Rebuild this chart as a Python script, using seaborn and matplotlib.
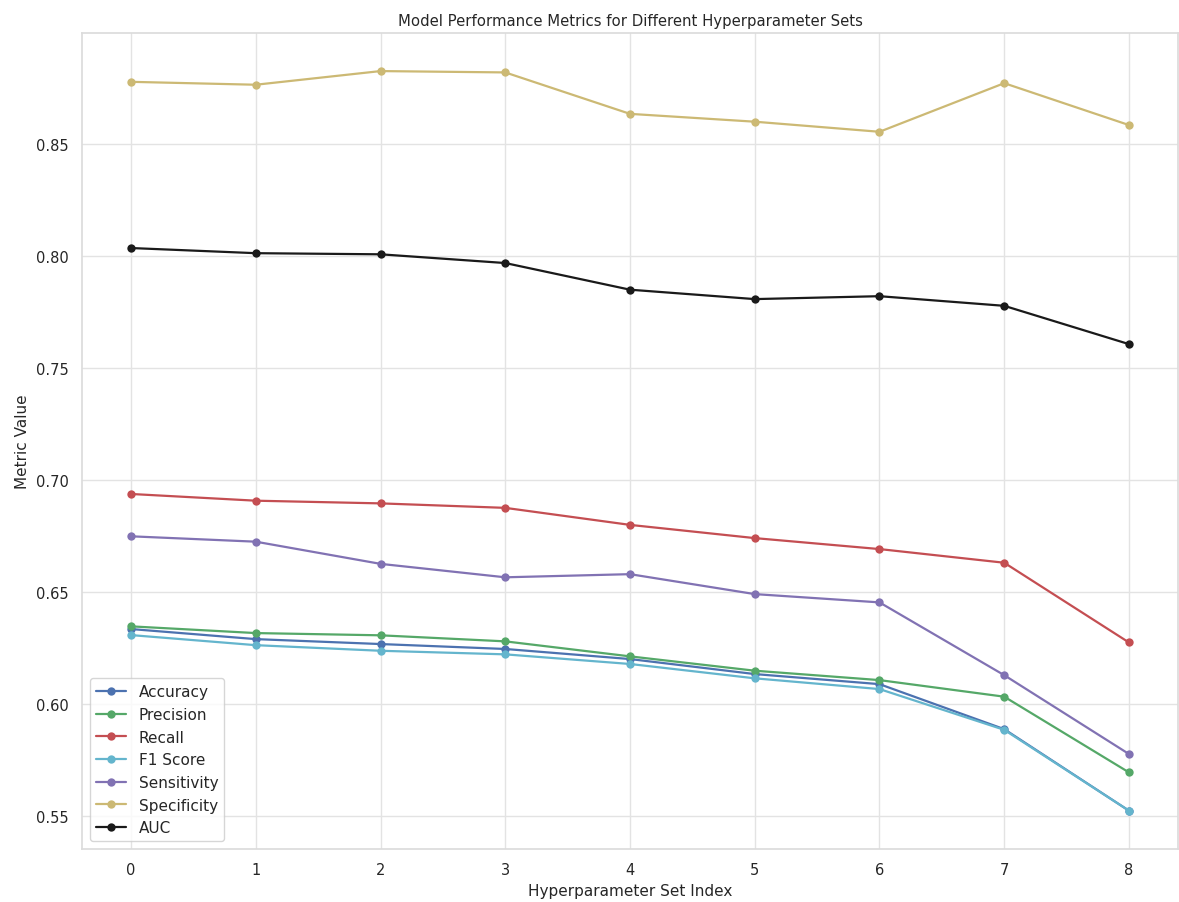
import numpy as np
import pandas as pd
import matplotlib
matplotlib.use("Agg")
import matplotlib.pyplot as plt
import seaborn as sns

hp_index = [0, 1, 2, 3, 4, 5, 6, 7, 8]
accuracy = [0.6335, 0.6290, 0.6268, 0.6246, 0.6201, 0.6134, 0.6089, 0.5888, 0.5524]
precision = [0.6347, 0.6317, 0.6307, 0.6280, 0.6213, 0.6149, 0.6107, 0.6033, 0.5695]
recall = [0.6938, 0.6908, 0.6896, 0.6876, 0.6800, 0.6741, 0.6692, 0.6631, 0.6275]
f1_score = [0.6308, 0.6263, 0.6238, 0.6222, 0.6179, 0.6115, 0.6067, 0.5885, 0.5524]
sensitivity = [0.6749, 0.6725, 0.6626, 0.6566, 0.6580, 0.6491, 0.6454, 0.6129, 0.5777]
specificity = [0.8778, 0.8765, 0.8826, 0.8820, 0.8635, 0.8600, 0.8555, 0.8772, 0.8585]
auc = [0.8036, 0.8013, 0.8008, 0.7969, 0.7850, 0.7808, 0.7821, 0.7778, 0.7607]

metric_names = ["Accuracy", "Precision", "Recall", "F1 Score", "Sensitivity", "Specificity", "AUC"]
metric_values = [accuracy, precision, recall, f1_score, sensitivity, specificity, auc]
color_codes = ["b", "g", "r", "c", "m", "y", "k"]

sns.set_theme(style="whitegrid", color_codes=True,
              rc={"grid.color": "#e3e3e3", "axes.edgecolor": "#dcdcdc"})

rows = []
for name, vals in zip(metric_names, metric_values):
    for i, v in zip(hp_index, vals):
        rows.append({"Hyperparameter Set Index": i, "Metric Value": v, "Metric": name})
df = pd.DataFrame(rows)

palette = {name: matplotlib.colors.to_rgb(c) for name, c in zip(metric_names, color_codes)}

fig = plt.figure(figsize=(11.79, 9.03), dpi=100)
ax = fig.add_axes([82 / 1179, 1 - 850 / 903, (1178 - 82) / 1179, (850 - 34) / 903])

sns.lineplot(data=df, x="Hyperparameter Set Index", y="Metric Value", hue="Metric",
             hue_order=metric_names, palette=palette, marker="o", markersize=6,
             markeredgewidth=0, linewidth=1.6, ax=ax)

ax.set_title("Model Performance Metrics for Different Hyperparameter Sets", fontsize=10.7)
ax.set_xlabel("Hyperparameter Set Index", fontsize=11)
ax.set_ylabel("Metric Value", fontsize=11)
ax.tick_params(labelsize=10.5)
ax.set_xticks(hp_index)
ax.set_xlim(-0.393, 8.393)
ax.set_ylim(0.5353, 0.8996)
ax.set_yticks([0.55, 0.60, 0.65, 0.70, 0.75, 0.80, 0.85])
ax.yaxis.set_major_formatter(matplotlib.ticker.FormatStrFormatter("%.2f"))
ax.legend(loc="lower left", fontsize=11, title=None)

fig.savefig("out.png", dpi=100)
